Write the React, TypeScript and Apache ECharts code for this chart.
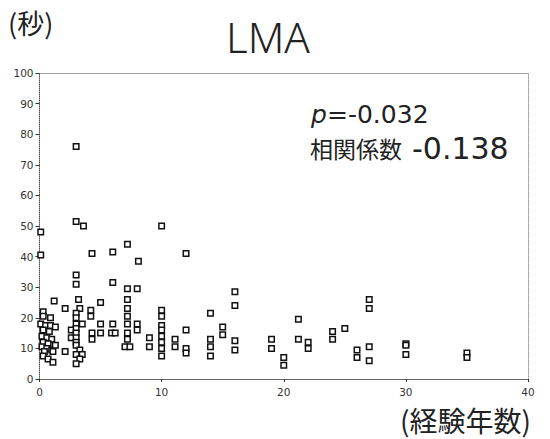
import React, { useEffect, useRef } from "react";
import * as echarts from "echarts";

// Years of experience (x) and LMA time in seconds (y)
const years = [
  0.1, 0.1, 0.3, 0.3, 0.1, 0.5, 0.9, 1.3, 0.3, 0.8, 0.2, 0.6, 1.0, 0.3, 0.7, 0.2, 0.6, 1.0, 0.4, 0.3, 0.7, 1.1, 1.2, 1.1, 1.3, 0.9,
  2.1, 2.1, 2.6, 2.6, 3, 3, 3.6, 3, 3, 3.2, 3.3, 3, 3, 3, 3, 3, 3, 3, 3.5, 3, 3.3, 3, 3.5, 3.3, 3,
  4.3, 4.2, 4.2, 4.3, 4.3, 5, 5, 5, 6, 6, 6, 5.9, 6.2,
  7.2, 7.2, 7.2, 7.2, 7.2, 7.2, 7.2, 7.2, 7.0, 7.4, 8.1, 8, 8, 8, 9, 9,
  10, 10, 10, 10, 10, 10, 10, 10, 10, 11.1, 11.1, 12, 12, 12, 12,
  14, 14, 14, 14, 15, 15, 16, 16, 16, 16, 19, 19, 20, 20,
  21.2, 21.2, 22, 22, 24, 24, 25, 26, 26, 27, 27, 27, 27, 30, 30, 30, 35, 35,
];
const seconds = [
  48, 40.5, 22, 20.5, 18, 17.5, 17.5, 17, 16, 15.5, 14, 13.5, 13, 12, 11.5, 10.5, 10, 9.5, 9, 7.5, 6.5, 5.5, 25.5, 9, 11, 20,
  23, 9, 16, 13.5, 76, 51.5, 50, 34, 31, 26, 23, 21.5, 20, 18, 16.5, 15, 13.5, 12, 18, 11, 9.5, 8, 8, 6.5, 5,
  41, 22.5, 20.5, 15, 13, 25, 18, 15, 41.5, 31.5, 18, 15, 15,
  44, 29.5, 26, 23, 20.5, 18, 15, 13, 10.5, 10.5, 38.5, 29.5, 18, 16, 13.5, 10.5,
  50, 22.5, 20.5, 17.5, 16, 14, 12, 10, 7.5, 13, 10.5, 41, 16, 10, 8.5,
  21.5, 13, 10.5, 7.5, 17, 14.5, 28.5, 24, 12.5, 9.5, 13, 10, 7, 4.5,
  19.5, 13, 12, 10, 15.5, 13, 16.5, 9.5, 7, 26, 23, 10.5, 6, 11.5, 11, 8, 8.5, 7,
];

const titleText = "LMA";
const yUnitText = "(秒)";
const xUnitText = "(経験年数)";
const pSymbol = "p";
const pValueText = "=-0.032";
const corrLabel = "相関係数";
const corrValueText = "-0.138";

export default function App() {
  const ref = useRef<HTMLDivElement>(null);
  useEffect(() => {
    const chart = echarts.init(ref.current!, null, { renderer: "svg" });
    const data = years.map((x, i) => [x, seconds[i]]);
    const labelStyle = { fontSize: 10.5, color: "#333", fontFamily: "DejaVu Sans" };
    chart.setOption({
      animation: false,
      backgroundColor: "#ffffff",
      grid: { left: 39.5, right: 22, top: 73, bottom: 60 },
      xAxis: [
        {
          type: "value", min: 0, max: 40, interval: 10,
          axisLine: { onZero: false, lineStyle: { color: "#555", type: "dotted", width: 1 } },
          axisTick: { show: true, length: 3, lineStyle: { color: "#333" } },
          axisLabel: { ...labelStyle, margin: 7 },
          splitLine: { show: false },
        },
        {
          type: "value", position: "top", min: 0, max: 40, interval: 10,
          axisLine: { show: true, onZero: false, lineStyle: { color: "#999", type: "dotted", width: 1 } },
          axisTick: { show: false }, axisLabel: { show: false }, splitLine: { show: false },
        },
      ],
      yAxis: [
        {
          type: "value", min: 0, max: 100, interval: 10,
          axisLine: { show: true, onZero: false, lineStyle: { color: "#555", type: "dotted", width: 1 } },
          axisTick: { show: true, length: 4, lineStyle: { color: "#333" } },
          axisLabel: { ...labelStyle, margin: 6 },
          splitLine: { show: false },
        },
        {
          type: "value", position: "right", min: 0, max: 100, interval: 10,
          axisLine: { show: true, onZero: false, lineStyle: { color: "#999", type: "dotted", width: 1 } },
          axisTick: { show: false }, axisLabel: { show: false }, splitLine: { show: false },
        },
      ],
      series: [
        {
          type: "scatter", xAxisIndex: 0, yAxisIndex: 0, data,
          symbol: "rect", symbolSize: 5.5,
          itemStyle: { color: "#ffffff", borderColor: "#111", borderWidth: 1.5, opacity: 1 },
        },
      ],
      graphic: [
        { type: "text", x: 8, y: 22, style: { text: yUnitText, fontSize: 27, fontFamily: "Noto Sans CJK JP", fill: "#222", align: "left", verticalAlign: "middle" } },
        { type: "text", x: 268, y: 36, style: { text: titleText, fontSize: 42, fontFamily: "Noto Sans", fontWeight: 300, fill: "#222", align: "center", verticalAlign: "middle" } },
        { type: "text", x: 311, y: 114, style: { text: pSymbol, fontSize: 25, fontStyle: "italic", fontFamily: "DejaVu Sans", fill: "#222", align: "left", verticalAlign: "middle" } },
        { type: "text", x: 327, y: 114, style: { text: pValueText, fontSize: 25, fontFamily: "DejaVu Sans", fill: "#222", align: "left", verticalAlign: "middle" } },
        { type: "text", x: 310, y: 148, style: { text: corrLabel, fontSize: 23, fontFamily: "Noto Sans CJK JP", fill: "#222", align: "left", verticalAlign: "middle" } },
        { type: "text", x: 412, y: 148.5, style: { text: corrValueText, fontSize: 30, fontFamily: "DejaVu Sans", fill: "#222", align: "left", verticalAlign: "middle" } },
        { type: "text", x: 400, y: 420, style: { text: xUnitText, fontSize: 28, fontFamily: "Noto Sans CJK JP", fill: "#222", align: "left", verticalAlign: "middle" } },
      ],
    });
    return () => chart.dispose();
  }, []);
  return <div ref={ref} style={{ width: 550, height: 439, position: "absolute", left: 0, top: 0 }} />;
}
